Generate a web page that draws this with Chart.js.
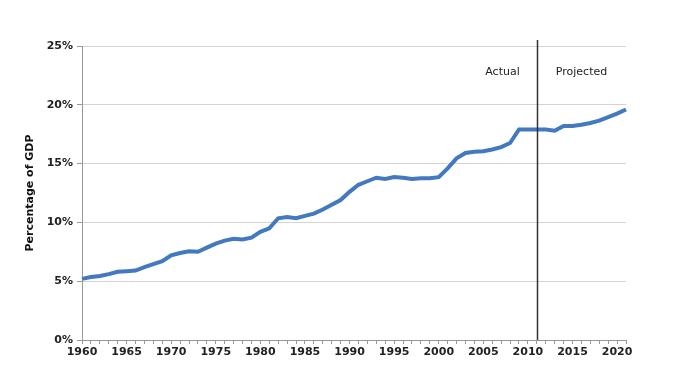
<!DOCTYPE html>
<html>
<head>
<meta charset="utf-8">
<script src="https://cdn.jsdelivr.net/npm/chart.js@4"></script>
<style>
  body { margin: 0; background: #fff; }
  #wrap { width: 674px; height: 377px; }
</style>
</head>
<body>
<div id="wrap"><canvas id="gdp-chart" width="674" height="377"></canvas></div>
<script>
const years = [];
for (let y = 1960; y <= 2021; y++) years.push(String(y));

// percent of GDP (1960-2021)
const shareOfGdp = [
  5.2, 5.35, 5.45, 5.6, 5.8, 5.85, 5.9, 6.2, 6.45, 6.7,
  7.2, 7.4, 7.55, 7.5, 7.85, 8.2, 8.45, 8.6, 8.55, 8.7,
  9.2, 9.5, 10.35, 10.45, 10.35, 10.55, 10.75, 11.1, 11.5, 11.9,
  12.6, 13.2, 13.5, 13.8, 13.7, 13.85, 13.8, 13.7, 13.75, 13.75,
  13.85, 14.6, 15.45, 15.9, 16.0, 16.05, 16.2, 16.4, 16.75, 17.9,
  17.9, 17.9, 17.9, 17.8, 18.2, 18.2, 18.3, 18.45, 18.65, 18.95,
  19.25, 19.6
];
const yTicks = [0, 5, 10, 15, 20, 25];
const splitYear = '2011';

const axisFont = { family: 'DejaVu Sans', size: 11, weight: 'bold' };

const splitLine = {
  id: 'splitLine',
  afterDatasetsDraw(chart) {
    const { ctx, chartArea } = chart;
    const x = Math.round(chart.scales.x.getPixelForValue(years.indexOf(splitYear))) + 0.5;
    ctx.save();
    ctx.strokeStyle = '#333';
    ctx.lineWidth = 1.5;
    ctx.beginPath();
    ctx.moveTo(x, chartArea.top - 6);
    ctx.lineTo(x, chartArea.bottom);
    ctx.stroke();
    ctx.fillStyle = '#222';
    ctx.font = '11px "DejaVu Sans"';
    ctx.textAlign = 'center';
    ctx.textBaseline = 'middle';
    const yText = chart.scales.y.getPixelForValue(22.8);
    ctx.fillText('Actual', x - 35, yText);
    ctx.fillText('Projected', x + 44, yText);
    ctx.restore();
  }
};

new Chart(document.getElementById('gdp-chart').getContext('2d'), {
  type: 'line',
  data: {
    labels: years,
    datasets: [{
      data: shareOfGdp,
      borderColor: '#4279bf',
      borderWidth: 4,
      pointRadius: 0,
      tension: 0,
      fill: false,
    }],
  },
  options: {
    responsive: false,
    animation: false,
    layout: { padding: { top: 46, right: 48, bottom: 0, left: 24 } },
    plugins: { legend: { display: false }, tooltip: { enabled: false } },
    scales: {
      x: {
        offset: false,
        grid: { display: true, drawOnChartArea: false, drawTicks: true, tickLength: 4, color: '#999' },
        border: { color: '#999' },
        ticks: {
          autoSkip: false,
          maxRotation: 0,
          color: '#222',
          font: axisFont,
          padding: 2,
          callback: (v, i) => (Number(years[i]) % 5 === 0 ? years[i] : ''),
        },
        afterFit: (scale) => { scale.height = 37; },
      },
      y: {
        min: 0,
        max: 25,
        afterBuildTicks: (scale) => { scale.ticks = yTicks.map((v) => ({ value: v })); },
        grid: { color: '#d4d4d4', tickLength: 5, tickColor: '#999' },
        border: { color: '#999' },
        ticks: { color: '#222', font: axisFont, padding: 4, callback: (v) => v + '%' },
        title: { display: true, text: 'Percentage of GDP', color: '#111', font: { family: 'DejaVu Sans', size: 11, weight: 'bold' }, padding: { top: 0, bottom: 6 } },
        afterFit: (scale) => { scale.width = 58; },
      },
    },
  },
  plugins: [splitLine],
});
</script>
</body>
</html>
